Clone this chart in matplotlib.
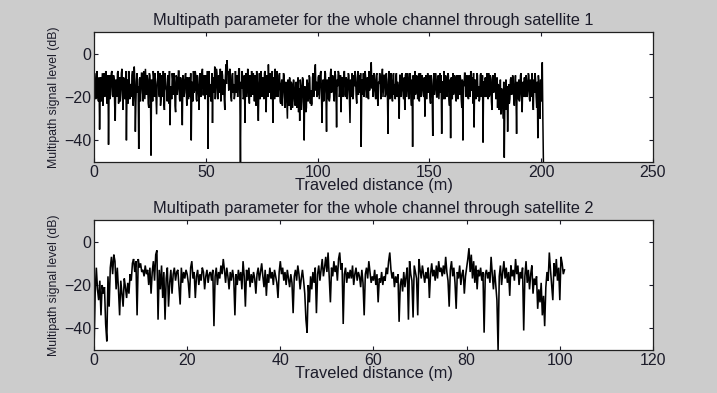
import matplotlib.pyplot as plt
import numpy as np

# satellite 1: samples at 0, 0.5, 1.0 ... 201 m
sat1_level = [
    -37, -14, -19, -12, -22, -35, -11, -16, -24, -9, -18, -13, -21, -42, -10, -15, -8, -20, -12, -31,
    -14, -9, -23, -11, -17, -7, -26, -13, -19, -40, -12, -8, -21, -15, -10, -24, -6, -36, -13, -18,
    -44, -11, -17, -9, -22, -14, -7, -19, -12, -25, -10, -47, -16, -8, -20, -13, -28, -11, -18, -9,
    -21, -14, -8, -26, -12, -17, -10, -23, -33, -15, -9, -19, -13, -27, -11, -16, -8, -22, -14, -33,
    -12, -18, -9, -24, -15, -11, -20, -40, -13, -8, -17, -10, -22, -14, -26, -9, -16, -7, -19, -12,
    -10, -17, -44, -8, -14, -20, -32, -11, -6, -15, -9, -21, -13, -7, -18, -10, -12, -26, -5, -3,
    -8, -15, -11, -22, -9, -14, -19, -18, -10, -13, -7, -50, -16, -12, -20, -32, -9, -17, -11, -23,
    -13, -8, -19, -14, -10, -24, -12, -31, -9, -17, -15, -11, -21, -8, -27, -12, -5, -18, -10, -16,
    -32, -11, -7, -20, -13, -16, -9, -23, -12, -18, -10, -25, -15, -30, -19, -11, -26, -14, -21, -16,
    -24, -13, -19, -27, -31, -15, -22, -12, -40, -18, -25, -14, -20, -11, -17, -23, -9, -16, -5, -13,
    -19, -10, -15, -8, -32, -12, -18, -9, -36, -14, -11, -20, -7, -16, -13, -22, -10, -34, -15, -9,
    -17, -27, -11, -14, -8, -20, -12, -16, -10, -32, -13, -9, -19, -15, -11, -23, -8, -14, -18, -43,
    -12, -9, -16, -11, -20, -13, -8, -15, -4, -10, -17, -12, -21, -9, -24, -14, -11, -18, -7, -15,
    -10, -19, -13, -37, -8, -16, -12, -22, -9, -14, -11, -20, -15, -30, -10, -17, -13, -21, -26, -9,
    -16, -12, -19, -10, -24, -43, -13, -8, -18, -11, -15, -22, -9, -17, -12, -20, -29, -10, -14, -18,
    -11, -23, -14, -38, -9, -16, -12, -20, -10, -15, -18, -37, -13, -8, -21, -12, -17, -10, -24, -39,
    -13, -9, -18, -11, -22, -14, -10, -19, -12, -25, -40, -15, -9, -17, -11, -21, -13, -8, -16, -23,
    -34, -12, -18, -10, -15, -21, -9, -17, -41, -13, -11, -20, -14, -9, -19, -12, -26, -10, -16, -13,
    -18, -25, -15, -22, -28, -17, -30, -48, -20, -26, -36, -14, -21, -11, -18, -13, -24, -10, -37, -15,
    -12, -19, -9, -27, -14, -11, -20, -13, -17, -10, -22, -15, -9, -26, -18, -12, -25, -39, -14, -30,
    -22, -4, -50,
]

# satellite 1: samples at 0.25, 0.75 ... 200.75 m
sat1_level_q = [
    -9, -21, -8, -20, -11, -17, -22, -9, -13, -20, -8, -23, -10, -16, -21, -9, -19, -10, -24, -12,
    -20, -8, -15, -22, -9, -19, -11, -21, -8, -17, -23, -10, -14, -20, -8, -18, -12, -22, -9, -15,
    -12, -22, -9, -18, -8, -21, -13, -10, -23, -9, -17, -12, -22, -11, -9, -21, -14, -8, -20, -24,
    -10, -20, -23, -9, -16, -22, -12, -8, -18, -21, -12, -9, -24, -10, -19, -8, -21, -11, -18, -10,
    -20, -10, -16, -11, -21, -19, -9, -14, -22, -18, -8, -21, -10, -18, -11, -20, -9, -19, -10, -21,
    -19, -8, -12, -20, -22, -9, -12, -18, -21, -7, -20, -10, -18, -22, -8, -19, -21, -11, -14, -9,
    -17, -7, -20, -10, -18, -21, -8, -12, -20, -7, -21, -13, -8, -21, -10, -15, -20, -7, -19, -10,
    -20, -17, -9, -22, -18, -8, -20, -14, -21, -8, -20, -18, -9, -19, -10, -20, -14, -9, -21, -8,
    -12, -21, -18, -8, -20, -10, -22, -14, -24, -9, -20, -13, -23, -12, -24, -20, -13, -25, -12, -22,
    -14, -25, -11, -16, -12, -26, -11, -21, -15, -27, -12, -22, -10, -23, -24, -11, -20, -9, -17, -20,
    -11, -21, -9, -20, -14, -22, -8, -19, -12, -21, -22, -9, -18, -10, -21, -8, -18, -12, -8, -20,
    -10, -13, -20, -9, -19, -11, -21, -9, -22, -12, -20, -21, -10, -8, -20, -13, -19, -10, -9, -14,
    -19, -20, -8, -20, -11, -21, -17, -10, -16, -20, -9, -19, -10, -20, -13, -9, -21, -11, -20, -10,
    -20, -9, -20, -12, -21, -9, -20, -10, -19, -21, -9, -13, -21, -10, -20, -9, -19, -11, -10, -20,
    -9, -21, -9, -20, -12, -10, -21, -19, -10, -21, -9, -12, -20, -10, -19, -11, -13, -21, -9, -10,
    -20, -10, -20, -12, -19, -9, -20, -11, -21, -9, -10, -13, -21, -19, -10, -20, -9, -21, -12, -11,
    -21, -19, -10, -20, -10, -21, -18, -10, -21, -12, -13, -9, -20, -10, -20, -10, -20, -17, -11, -9,
    -13, -21, -9, -20, -22, -10, -20, -10, -13, -20, -19, -9, -21, -20, -10, -22, -11, -18, -9, -21,
    -11, -14, -26, -12, -16, -24, -13, -22, -12, -15, -20, -23, -12, -19, -10, -21, -14, -20, -13, -21,
    -22, -10, -21, -13, -20, -19, -10, -20, -9, -21, -12, -20, -21, -12, -9, -20, -13, -10, -21, -12,
    -12, -30,
]

# satellite 2: samples every 0.25 m, 0..101 m
sat2_level = [
    -50, -24, -12, -22, -27, -18, -34, -20, -24, -21, -38, -46, -16, -30, -12, -7, -15, -6, -9, -22,
    -12, -22, -34, -18, -24, -30, -17, -21, -26, -19, -24, -15, -18, -10, -8, -14, -9, -34, -8, -12,
    -10, -14, -13, -16, -11, -15, -13, -20, -12, -24, -14, -9, -18, -6, -4, -36, -13, -22, -11, -26,
    -14, -36, -17, -12, -30, -19, -13, -24, -15, -12, -18, -14, -13, -21, -29, -12, -19, -14, -17, -13,
    -15, -19, -26, -12, -9, -17, -14, -26, -16, -13, -20, -15, -18, -12, -14, -22, -16, -13, -19, -15,
    -14, -18, -13, -39, -16, -12, -20, -14, -17, -11, -15, -8, -13, -19, -12, -16, -22, -14, -18, -13,
    -17, -34, -15, -20, -13, -18, -14, -22, -9, -16, -30, -13, -18, -12, -21, -15, -19, -14, -17, -24,
    -15, -12, -18, -14, -10, -16, -21, -13, -25, -15, -19, -12, -17, -14, -20, -13, -16, -19, -26, -14,
    -9, -15, -12, -18, -14, -20, -13, -17, -21, -15, -19, -33, -16, -13, -18, -11, -15, -22, -17, -13,
    -18, -24, -36, -42, -20, -28, -16, -22, -14, -19, -12, -33, -15, -11, -18, -13, -8, -16, -12, -7,
    -14, -5, -17, -28, -12, -16, -9, -14, -11, -18, -8, -5, -13, -10, -38, -15, -12, -19, -14, -17,
    -13, -17, -11, -20, -15, -12, -18, -14, -16, -21, -13, -19, -34, -15, -12, -17, -9, -14, -19, -16,
    -18, -13, -20, -15, -28, -17, -19, -14, -20, -16, -18, -12, -15, -9, -5, -13, -17, -14, -21, -16,
    -19, -15, -37, -20, -17, -23, -14, -21, -16, -12, -36, -9, -15, -18, -35, -11, -14, -17, -34, -8,
    -13, -17, -11, -15, -19, -14, -17, -12, -26, -15, -10, -16, -13, -18, -11, -17, -9, -14, -12, -16,
    -11, -15, -7, -14, -18, -30, -13, -9, -16, -12, -19, -31, -14, -17, -11, -20, -15, -13, -24, -16,
    -12, -8, -3, -14, -6, -17, -9, -19, -11, -22, -13, -16, -12, -18, -14, -42, -15, -13, -17, -14,
    -19, -7, -15, -22, -13, -20, -27, -50, -16, -11, -20, -14, -9, -17, -12, -19, -14, -25, -11, -16,
    -13, -18, -8, -15, -11, -20, -14, -17, -12, -41, -16, -9, -19, -13, -22, -15, -11, -24, -17, -20,
    -16, -31, -22, -28, -19, -34, -25, -39, -21, -14, -18, -5, -13, -20, -27, -10, -16, -8, -18, -12,
    -27, -7, -10, -15, -13,
]

# merge the two satellite-1 sample sets into one track
x1 = np.concatenate([np.arange(len(sat1_level)) * 0.5,
                     np.arange(len(sat1_level_q)) * 0.5 + 0.25])
y1 = np.concatenate([sat1_level, sat1_level_q])
order = np.argsort(x1)
x1, y1 = x1[order], y1[order]

x2 = np.arange(len(sat2_level)) * 0.25
y2 = np.array(sat2_level)

panels = [
    ("Multipath parameter for the whole channel through satellite 1",
     x1, y1, 250, [0, 50, 100, 150, 200, 250], 1.1),
    ("Multipath parameter for the whole channel through satellite 2",
     x2, y2, 120, [0, 20, 40, 60, 80, 100, 120], 1.15),
]

txt = '#1c1c2a'
plt.rcParams['font.family'] = ['Liberation Sans', 'DejaVu Sans']

fig = plt.figure(figsize=(7.17, 3.93), dpi=100, facecolor='#cccccc')
rects = [[0.1311, 0.5878, 0.7796, 0.3308], [0.1311, 0.1094, 0.7796, 0.3308]]

for rect, (title, x, y, xmax, xticks, lw) in zip(rects, panels):
    ax = fig.add_axes(rect)
    ax.plot(x, y, color='k', lw=lw, solid_joinstyle='miter')
    ax.set_xlim(0, xmax)
    ax.set_ylim(-50, 10)
    ax.set_xticks(xticks)
    ax.set_yticks([-40, -20, 0])
    ax.tick_params(direction='in', top=True, right=True, length=3, width=0.8,
                   labelsize=11.5, colors=txt, pad=2)
    for s in ax.spines.values():
        s.set_linewidth(0.9)
        s.set_color('#202020')
    ax.set_title(title, fontsize=11.8, color=txt, pad=5)
    ax.set_xlabel("Traveled distance (m)", fontsize=11.8, color=txt, labelpad=-1)
    ax.set_ylabel("Multipath signal level (dB)", fontsize=8.8, color=txt,
                  family=['Liberation Sans Narrow', 'Liberation Sans'], labelpad=3)

fig.savefig('out.png', dpi=100, facecolor=fig.get_facecolor())
